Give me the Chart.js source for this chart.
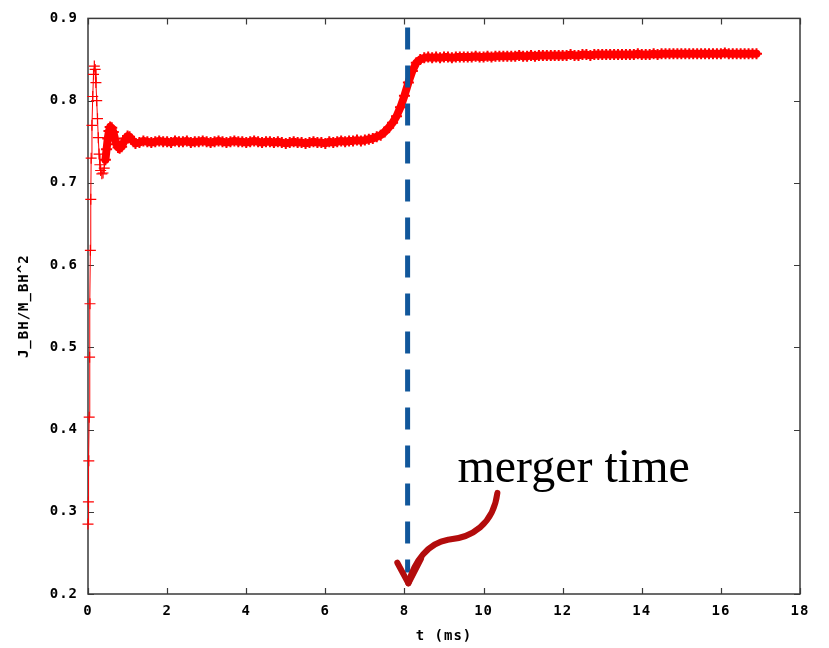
<!DOCTYPE html>
<html>
<head>
<meta charset="utf-8">
<style>
  html, body { margin: 0; padding: 0; background: #fff; }
  #wrap { width: 829px; height: 648px; }
</style>
<script src="https://cdn.jsdelivr.net/npm/chart.js@4.4.1/dist/chart.umd.min.js"></script>
</head>
<body>
<div id="wrap"><canvas id="spinChart" width="829" height="648"></canvas></div>
<script>
// time (ms) and dimensionless spin J_BH/M_BH^2
const timeMs = [
  0.00, 0.01, 0.02, 0.03, 0.04, 0.05, 0.06, 0.07, 0.08, 0.10,
  0.12, 0.14, 0.16, 0.18, 0.20, 0.22, 0.24, 0.26, 0.28, 0.30,
  0.32, 0.35, 0.38, 0.41, 0.44, 0.47, 0.50, 0.53, 0.56, 0.60,
  0.64, 0.68, 0.72, 0.76, 0.80, 0.85, 0.90, 0.95, 1.00, 1.05,
  1.10, 1.15, 1.20, 1.30,
  1.4, 1.5, 1.6, 1.7, 1.8, 1.9, 2.0, 2.1, 2.2, 2.3,
  2.4, 2.5, 2.6, 2.7, 2.8, 2.9, 3.0, 3.1, 3.2, 3.3,
  3.4, 3.5, 3.6, 3.7, 3.8, 3.9, 4.0, 4.1, 4.2, 4.3,
  4.4, 4.5, 4.6, 4.7, 4.8, 4.9, 5.0, 5.1, 5.2, 5.3,
  5.4, 5.5, 5.6, 5.7, 5.8, 5.9, 6.0, 6.1, 6.2, 6.3,
  6.4, 6.5, 6.6, 6.7, 6.8, 6.9, 7.0,
  7.1, 7.2, 7.3, 7.4, 7.5, 7.6, 7.7, 7.8, 7.9, 8.0,
  8.1, 8.2, 8.3, 8.4, 8.5,
  8.6, 8.7, 8.8, 8.9, 9.0, 9.1, 9.2, 9.3, 9.4, 9.5,
  9.6, 9.7, 9.8, 9.9, 10.0, 10.1, 10.2, 10.3, 10.4, 10.5,
  10.6, 10.7, 10.8, 10.9, 11.0, 11.1, 11.2, 11.3, 11.4, 11.5,
  11.6, 11.7, 11.8, 11.9, 12.0, 12.1, 12.2, 12.3, 12.4, 12.5,
  12.6, 12.7, 12.8, 12.9, 13.0, 13.1, 13.2, 13.3, 13.4, 13.5,
  13.6, 13.7, 13.8, 13.9, 14.0, 14.1, 14.2, 14.3, 14.4, 14.5,
  14.6, 14.7, 14.8, 14.9, 15.0, 15.1, 15.2, 15.3, 15.4, 15.5,
  15.6, 15.7, 15.8, 15.9, 16.0, 16.1, 16.2, 16.3, 16.4, 16.5,
  16.6, 16.7, 16.8, 16.9
];
const spin = [
  0.285, 0.312, 0.362, 0.415, 0.488, 0.553, 0.618, 0.680, 0.730, 0.770,
  0.805, 0.832, 0.842, 0.838, 0.822, 0.800, 0.778, 0.755, 0.735, 0.722,
  0.715, 0.711, 0.712, 0.718, 0.728, 0.741, 0.754, 0.763, 0.768, 0.767,
  0.762, 0.754, 0.747, 0.743, 0.742, 0.744, 0.749, 0.754, 0.757, 0.756,
  0.753, 0.750, 0.748, 0.749,
  0.751, 0.750, 0.749, 0.750, 0.751, 0.750, 0.750, 0.749, 0.751, 0.750,
  0.750, 0.751, 0.749, 0.750, 0.750, 0.751, 0.750, 0.749, 0.750, 0.751,
  0.750, 0.749, 0.750, 0.751, 0.750, 0.750, 0.749, 0.750, 0.751, 0.750,
  0.749, 0.750, 0.750, 0.749, 0.750, 0.749, 0.748, 0.749, 0.750, 0.749,
  0.749, 0.748, 0.749, 0.750, 0.749, 0.749, 0.748, 0.750, 0.749, 0.750,
  0.751, 0.750, 0.751, 0.751, 0.752, 0.751, 0.752,
  0.753, 0.754, 0.756, 0.758, 0.762, 0.767, 0.773, 0.781, 0.792, 0.806,
  0.822, 0.836, 0.846, 0.850, 0.852,
  0.853, 0.852, 0.853, 0.852, 0.853, 0.853, 0.852, 0.853, 0.853, 0.853,
  0.853, 0.853, 0.854, 0.853, 0.853, 0.854, 0.853, 0.854, 0.854, 0.854,
  0.854, 0.854, 0.854, 0.855, 0.854, 0.854, 0.855, 0.854, 0.855, 0.855,
  0.855, 0.855, 0.855, 0.855, 0.855, 0.855, 0.856, 0.855, 0.855, 0.856,
  0.856, 0.855, 0.856, 0.856, 0.856, 0.856, 0.856, 0.856, 0.856, 0.856,
  0.856, 0.856, 0.856, 0.857, 0.856, 0.856, 0.856, 0.857, 0.856, 0.857,
  0.857, 0.857, 0.857, 0.857, 0.857, 0.857, 0.857, 0.857, 0.857, 0.857,
  0.857, 0.857, 0.857, 0.857, 0.857, 0.858, 0.857, 0.857, 0.857, 0.857,
  0.857, 0.857, 0.857, 0.857
];
const xTickStep = 2;
const yTickStep = 0.1;
const mergerTime = 8.08;
const mergerLabel = "merger time";
// arrow path in data units: start, control points, tip, and the two head wings
const arrowPath = [[10.35, 0.323], [10.25, 0.285], [9.7, 0.268], [9.1, 0.266],
                   [8.6, 0.262], [8.25, 0.240], [8.1, 0.213]];
const arrowWings = [[7.82, 0.238], [8.42, 0.243]];

const points = timeMs.map((t, i) => ({ x: t, y: spin[i] }));
const monoFont = { family: "'DejaVu Sans Mono', monospace", size: 14, weight: "bold" };
const denseFrom = 0.42; // sampling is so dense after this that the marks merge

// gnuplot-style border with inward ticks on all four sides
const borderPlugin = {
  id: "border",
  beforeDraw(chart) {
    chart.ctx.letterSpacing = "1px";
  },
  beforeDatasetsDraw(chart) {
    const { ctx, chartArea: a, scales: { x, y } } = chart;
    ctx.save();
    ctx.strokeStyle = "#3a3a3a";
    ctx.lineWidth = 1.5;
    ctx.strokeRect(a.left, a.top, a.right - a.left, a.bottom - a.top);
    ctx.lineWidth = 1.2;
    ctx.beginPath();
    x.ticks.forEach(t => {
      const px = Math.round(x.getPixelForValue(t.value)) + 0.5;
      ctx.moveTo(px, a.bottom); ctx.lineTo(px, a.bottom - 6);
      ctx.moveTo(px, a.top); ctx.lineTo(px, a.top + 6);
    });
    y.ticks.forEach(t => {
      const py = Math.round(y.getPixelForValue(t.value)) + 0.5;
      ctx.moveTo(a.left, py); ctx.lineTo(a.left + 6, py);
      ctx.moveTo(a.right, py); ctx.lineTo(a.right - 6, py);
    });
    ctx.stroke();
    ctx.restore();
  },
  afterDatasetsDraw(chart) {
    const { ctx, chartArea: a, scales: { x, y } } = chart;
    const px = p => [x.getPixelForValue(p[0]), y.getPixelForValue(p[1])];
    ctx.save();
    ctx.letterSpacing = "0px";

    // merger time dashed line
    const mx = x.getPixelForValue(mergerTime);
    ctx.strokeStyle = "#11579b";
    ctx.lineWidth = 5;
    ctx.setLineDash([22, 16]);
    ctx.beginPath();
    ctx.moveTo(mx, a.top + 9);
    ctx.lineTo(mx, y.getPixelForValue(0.226));
    ctx.stroke();
    ctx.setLineDash([]);

    // label
    ctx.fillStyle = "#000";
    ctx.font = "48px 'Liberation Serif', serif";
    ctx.textBaseline = "alphabetic";
    ctx.fillText(mergerLabel, x.getPixelForValue(9.34), y.getPixelForValue(0.336));

    // curved arrow
    const p = arrowPath.map(px);
    ctx.strokeStyle = "#b30c0c";
    ctx.lineWidth = 6;
    ctx.lineCap = "round";
    ctx.lineJoin = "round";
    ctx.beginPath();
    ctx.moveTo(p[0][0], p[0][1]);
    ctx.bezierCurveTo(p[1][0], p[1][1], p[2][0], p[2][1], p[3][0], p[3][1]);
    ctx.bezierCurveTo(p[4][0], p[4][1], p[5][0], p[5][1], p[6][0], p[6][1]);
    ctx.stroke();
    const w = arrowWings.map(px);
    ctx.beginPath();
    ctx.moveTo(w[0][0], w[0][1]);
    ctx.lineTo(p[6][0], p[6][1]);
    ctx.lineTo(w[1][0], w[1][1]);
    ctx.stroke();
    ctx.restore();
  }
};

new Chart(document.getElementById("spinChart"), {
  type: "line",
  data: {
    datasets: [{
      data: points,
      borderColor: "#ff0000",
      borderWidth: 1,
      borderJoinStyle: "round",
      borderCapStyle: "round",
      segment: {
        borderWidth: c => (c.p0.parsed.x >= denseFrom ? 8 : 1)
      },
      pointStyle: "cross",
      pointRadius: 5.5,
      pointBorderColor: "#ff0000",
      pointBorderWidth: c => (c.raw && c.raw.x >= denseFrom ? 2 : 1.2),
      pointHoverRadius: 5.5,
      tension: 0,
      clip: false
    }]
  },
  options: {
    responsive: false,
    animation: false,
    devicePixelRatio: 1,
    layout: { padding: { left: 0, right: 29, top: 17, bottom: 0 } },
    plugins: { legend: { display: false }, tooltip: { enabled: false } },
    scales: {
      x: {
        type: "linear", min: 0, max: 18,
        grid: { display: false, drawTicks: false },
        border: { display: false },
        ticks: { stepSize: xTickStep, color: "#000", font: monoFont, padding: 9, maxRotation: 0 },
        title: { display: true, text: "t (ms)", color: "#000", font: monoFont, padding: { top: 0, bottom: 3 } },
        afterFit: s => { s.height = 54; }
      },
      y: {
        type: "linear", min: 0.2, max: 0.9,
        grid: { display: false, drawTicks: false },
        border: { display: false },
        ticks: { stepSize: yTickStep, color: "#000", font: monoFont, padding: 10, callback: v => v.toFixed(1) },
        title: { display: true, text: "J_BH/M_BH^2", color: "#000", font: monoFont, padding: { top: 16, bottom: 0 } },
        afterFit: s => { s.width = 88; }
      }
    }
  },
  plugins: [borderPlugin]
});
</script>
</body>
</html>
